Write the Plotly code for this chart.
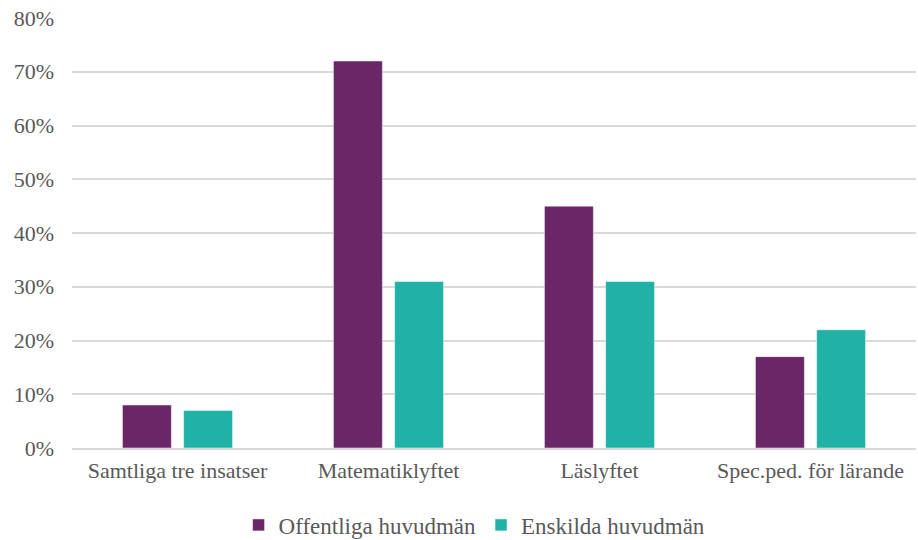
import plotly.graph_objects as go

categories = ["Samtliga tre insatser", "Matematiklyftet", "Läslyftet", "Spec.ped. för lärande"]
offentliga = [8, 72, 45, 17]
enskilda = [7, 31, 31, 22]
tickvals = [0, 10, 20, 30, 40, 50, 60, 70, 80]
ticktext = [f"{v}%" for v in tickvals]

font_family = "Liberation Serif, Times New Roman, serif"
gray = "#595959"

fig = go.Figure()
fig.add_trace(go.Bar(x=categories, y=offentliga, name="Offentliga huvudmän",
                     marker=dict(color="#6B2667", line=dict(color="#FFFFFF", width=0.5))))
fig.add_trace(go.Bar(x=categories, y=enskilda, name="Enskilda huvudmän",
                     marker=dict(color="#20B2A6", line=dict(color="#FFFFFF", width=0.5))))

fig.update_layout(
    width=918, height=540,
    plot_bgcolor="white", paper_bgcolor="white",
    barmode="group", bargap=0.42, bargroupgap=0.2,
    margin=dict(l=72, r=2, t=18, b=92, autoexpand=False),
    font=dict(family=font_family, size=22, color=gray),
    legend=dict(orientation="h", x=0.477, xanchor="center", y=-0.179, yanchor="middle",
                font=dict(size=23, color=gray), itemwidth=30, traceorder="normal"),
    showlegend=True,
)
fig.update_yaxes(range=[0, 80], tickvals=tickvals, ticktext=ticktext,
                 showgrid=True, gridcolor="#D9D9D9", gridwidth=2, automargin=False,
                 ticklabeloverflow="allow",
                 zeroline=False, showline=False, ticks="", ticklabelstandoff=17)
fig.update_xaxes(showline=True, linecolor="#D9D9D9", linewidth=2, ticks="", automargin=False,
                 showgrid=False, ticklabelstandoff=2)

fig.write_html("out.html", config={"displayModeBar": False},
               post_script="document.body.style.margin='0';")
